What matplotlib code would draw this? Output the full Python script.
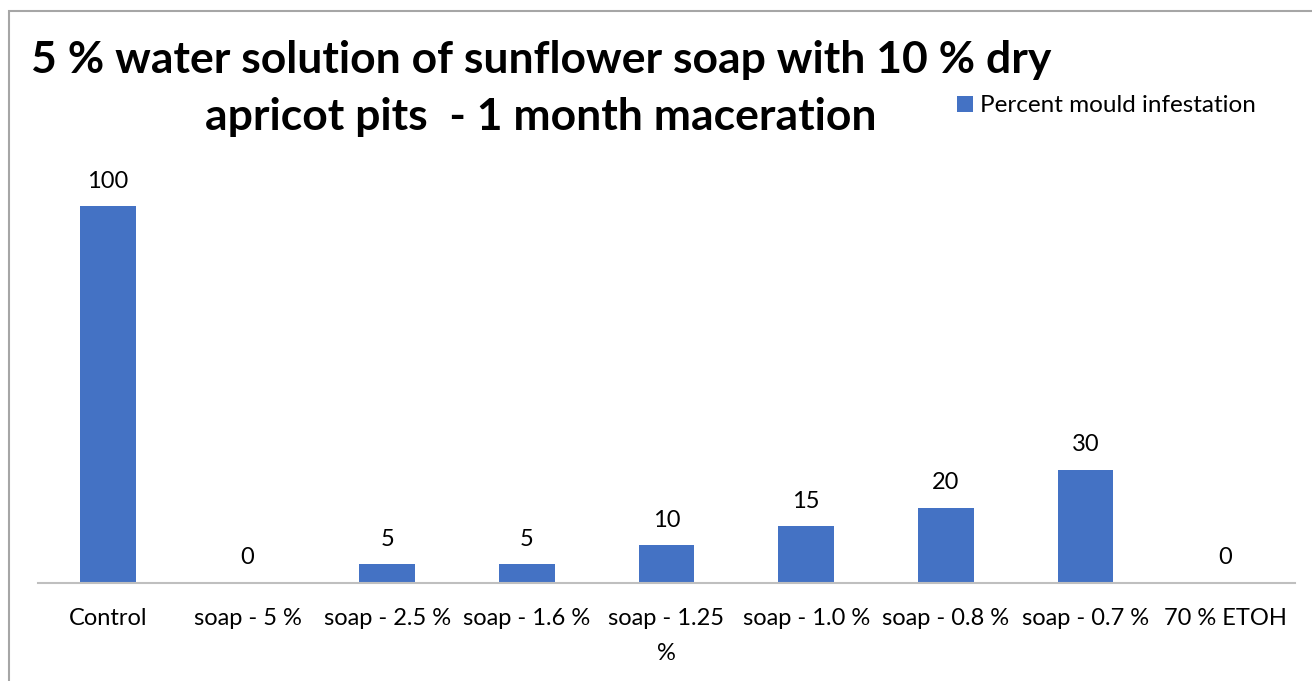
import matplotlib
matplotlib.use("Agg")
import matplotlib.pyplot as plt
from matplotlib.patches import Rectangle

categories = ["Control", "soap - 5 %", "soap - 2.5 %", "soap - 1.6 %", "soap - 1.25\n%",
              "soap - 1.0 %", "soap - 0.8 %", "soap - 0.7 %", "70 % ETOH"]
values = [100, 0, 5, 5, 10, 15, 20, 30, 0]
series_name = "Percent mould infestation"
title_lines = ["5 % water solution of sunflower soap with 10 % dry",
               "apricot pits  - 1 month maceration"]

plt.rcParams['font.family'] = ['Lato', 'DejaVu Sans']
W, H = 1312, 681
fig = plt.figure(figsize=(W/100, H/100), dpi=100)

# outer border
fig.patches.append(Rectangle((9/W, -0.05), 1.1, 1 - 11/H + 0.05, transform=fig.transFigure,
                             fill=False, edgecolor="#A6A6A6", linewidth=1.5))

ax_left, ax_right = 38, 1295
ax_bottom = 583
ax_top = 206 - 377 * 0.1  # leave some room above max
ax = fig.add_axes([ax_left/W, 1 - ax_bottom/H, (ax_right-ax_left)/W, (ax_bottom-ax_top)/H])
x = range(len(categories))
bars = ax.bar(x, values, width=0.4, color="#4472C4", label=series_name)
ax.set_xlim(-0.5, len(categories) - 0.5)
ax.set_ylim(0, 110)
for xi, v in zip(x, values):
    ax.annotate(str(v), (xi, v), xytext=(0, 18), textcoords="offset points",
                ha="center", va="center", fontsize=17, color="#000000")
ax.set_xticks(list(x))
ax.set_xticklabels(categories, fontsize=17, linespacing=1.8)
ax.tick_params(axis="x", length=0, pad=18)
ax.set_yticks([])
for s in ["left", "right", "top"]:
    ax.spines[s].set_visible(False)
ax.spines["bottom"].set_color("#BFBFBF")
ax.spines["bottom"].set_linewidth(1.5)
ax.set_facecolor("none")

fig.text(541/W, 1 - 60/H, title_lines[0], ha="center", va="center", fontsize=32, fontweight="bold")
fig.text(541/W, 1 - 117/H, title_lines[1], ha="center", va="center", fontsize=32, fontweight="bold")

ax.legend(loc="center left", bbox_to_anchor=(957/W, 1 - 106/H), bbox_transform=fig.transFigure,
          frameon=False, fontsize=17.5, handlelength=0.65, handleheight=0.65, handletextpad=0.3,
          borderpad=0, borderaxespad=0)

fig.savefig("out.png", dpi=100)
